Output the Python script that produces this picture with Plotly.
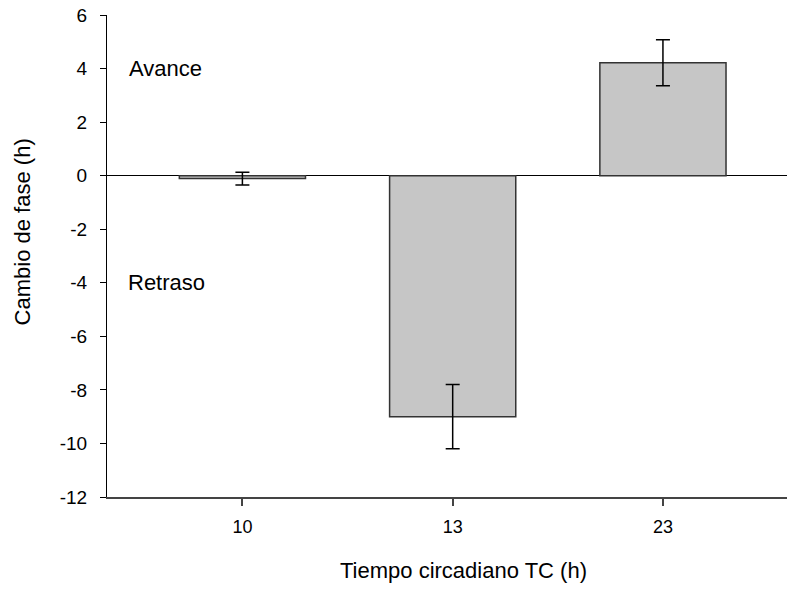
import plotly.graph_objects as go

# Data
categories = ["10", "13", "23"]
phase_shift = [-0.11, -9.0, 4.22]
error = [0.24, 1.2, 0.86]
y_ticks = [-12, -10, -8, -6, -4, -2, 0, 2, 4, 6]
y_tick_labels = ["-12", "-10", "-8", "-6", "-4", "-2", "0", "2", "4", "6"]

fig = go.Figure()
fig.add_trace(go.Bar(
    x=categories,
    y=phase_shift,
    width=0.6,
    marker=dict(color="#c6c6c6", line=dict(color="#333333", width=1.5)),
    error_y=dict(type="data", array=error, visible=True, color="black",
                 thickness=1.5, width=7),
))

fig.add_annotation(text="Avance", x=0.03, xref="paper", y=4, yref="y",
                   xanchor="left", yanchor="middle", showarrow=False,
                   font=dict(size=22, color="black"))
fig.add_annotation(text="Retraso", x=0.028, xref="paper", y=-4, yref="y",
                   xanchor="left", yanchor="middle", showarrow=False,
                   font=dict(size=22, color="black"))
# Axis titles
fig.add_annotation(text="Tiempo circadiano TC (h)", x=0.524, xref="paper",
                   y=-0.1535, yref="paper", xanchor="center", yanchor="middle",
                   showarrow=False, font=dict(size=22, color="black"))
fig.add_annotation(text="Cambio de fase (h)", x=-0.125, xref="paper",
                   y=0.549, yref="paper", xanchor="center", yanchor="middle",
                   textangle=-90, showarrow=False,
                   font=dict(size=22, color="black"))

fig.update_layout(
    width=787, height=600,
    margin=dict(l=107, r=0, t=15, b=103),
    plot_bgcolor="white", paper_bgcolor="white",
    font=dict(family="Liberation Sans, Arial, sans-serif", color="black"),
    showlegend=False,
    xaxis=dict(
        type="category",
        range=[-0.644, 2.59],
        showline=True, linecolor="#444444", linewidth=2,
        ticks="outside", ticklen=7, tickcolor="#444444", tickwidth=1.5,
        tickfont=dict(size=18),
        ticklabelstandoff=5,
        showgrid=False, zeroline=False,
    ),
    yaxis=dict(
        range=[-12, 6],
        tickvals=y_ticks,
        ticktext=y_tick_labels,
        showline=True, linecolor="black", linewidth=1.2,
        ticks="outside", ticklen=6, tickcolor="black", tickwidth=1,
        tickfont=dict(size=19),
        ticklabelstandoff=9,
        showgrid=False,
        zeroline=True, zerolinecolor="black", zerolinewidth=1,
    ),
)

fig.write_html("out.html", config={"displayModeBar": False},
               post_script="document.body.style.margin='0px';")
